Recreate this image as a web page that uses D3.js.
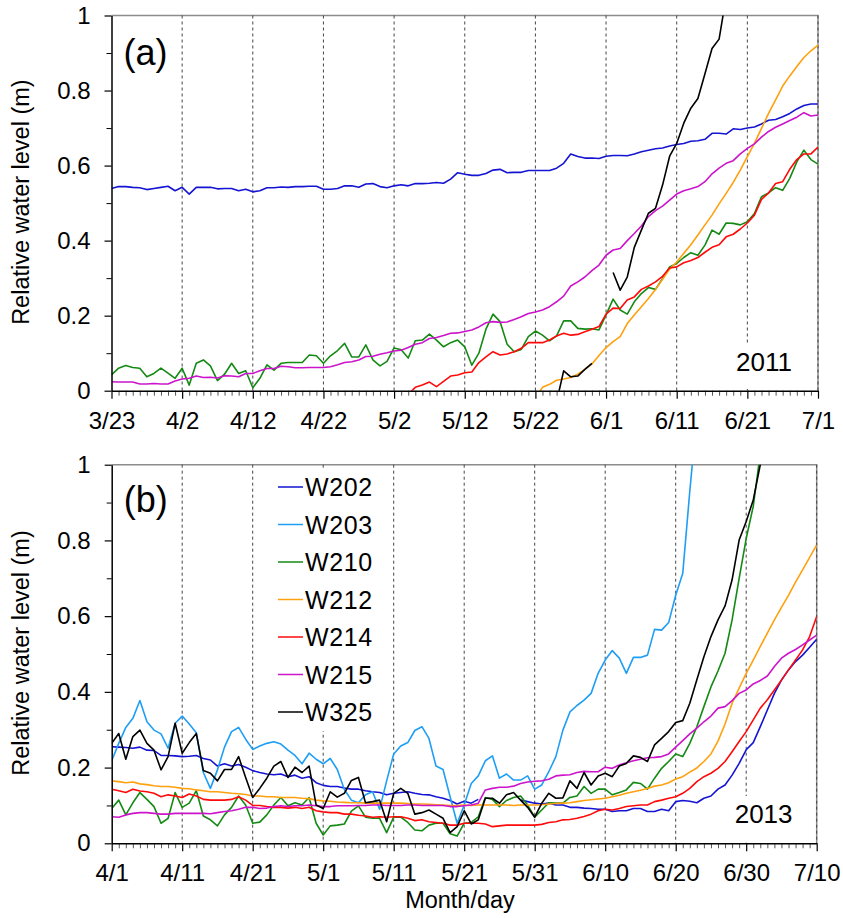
<!DOCTYPE html>
<html><head><meta charset="utf-8">
<script src="https://cdn.jsdelivr.net/npm/d3@7"></script>
<style>
body{margin:0;background:#fff}
svg{display:block;font-family:"Liberation Sans",Arial,sans-serif}
</style>
</head><body>
<svg id="c" width="843" height="918"></svg>
<script>
// ---------- data ----------
const seriesNames = ["W202","W203","W210","W212","W214","W215","W325"];
const seriesColors = ["#1414d2","#1e9ef5","#148a14","#ffa00f","#ff0a0a","#cc14cc","#000000"];
const startA = "2011-03-23";
const startB = "2013-04-01";
const ticksA = ["3/23","4/2","4/12","4/22","5/2","5/12","5/22","6/1","6/11","6/21","7/1"];
const ticksB = ["4/1","4/11","4/21","5/1","5/11","5/21","5/31","6/10","6/20","6/30","7/10"];
const yTicks = [0,0.2,0.4,0.6,0.8,1];
const yMinorTicks = [0.1,0.3,0.5,0.7,0.9];
const _ = null;

// Panel (a) 2011, daily values from 3/23
const a_W202 = [0.539,0.544,0.544,0.542,0.541,0.536,0.539,0.542,0.545,0.533,
0.542,0.524,0.542,0.542,0.542,0.538,0.539,0.539,0.533,0.537,
0.530,0.533,0.541,0.541,0.543,0.542,0.544,0.544,0.545,0.545,
0.537,0.537,0.539,0.546,0.546,0.542,0.551,0.552,0.544,0.541,
0.546,0.549,0.546,0.552,0.552,0.553,0.555,0.553,0.564,0.581,
0.577,0.574,0.574,0.579,0.588,0.590,0.581,0.582,0.582,0.587,
0.587,0.587,0.587,0.593,0.606,0.631,0.624,0.620,0.620,0.619,
0.625,0.627,0.627,0.626,0.631,0.637,0.641,0.645,0.647,0.652,
0.656,0.659,0.665,0.666,0.670,0.686,0.686,0.684,0.698,0.696,
0.700,0.703,0.711,0.721,0.723,0.730,0.739,0.751,0.760,0.764,0.764];
const a_W210 = [0.042,0.060,0.067,0.062,0.060,0.037,0.046,0.060,0.047,0.033,
0.060,0.015,0.073,0.082,0.066,0.027,0.044,0.073,0.046,0.053,
0.008,0.033,0.069,0.055,0.073,0.075,0.075,0.075,0.095,0.093,
0.073,0.093,0.107,0.126,0.090,0.090,0.122,0.082,0.066,0.078,
0.114,0.109,0.087,0.133,0.135,0.151,0.135,0.117,0.128,0.135,
0.117,0.068,0.100,0.164,0.204,0.184,0.124,0.104,0.110,0.144,
0.159,0.148,0.133,0.146,0.186,0.186,0.166,0.164,0.165,0.162,
0.202,0.244,0.215,0.204,0.237,0.259,0.275,0.270,0.299,0.330,
0.339,0.355,0.368,0.361,0.388,0.428,0.417,0.447,0.446,0.442,
0.450,0.472,0.517,0.527,0.541,0.534,0.566,0.610,0.641,0.616,0.604];
const a_W212 = [_,_,_,_,_,_,_,_,_,_, _,_,_,_,_,_,_,_,_,_, _,_,_,_,_,_,_,_,_,_,
_,_,_,_,_,_,_,_,_,_, _,_,_,_,_,_,_,_,_,_, _,_,_,_,_,_,_,_,_,_,
-0.02,0.009,0.017,0.028,0.031,0.035,0.044,0.057,0.071,0.094,
0.115,0.131,0.144,0.179,0.202,0.224,0.246,0.270,0.297,0.324,
0.343,0.366,0.389,0.415,0.442,0.468,0.498,0.526,0.555,0.588,
0.624,0.659,0.699,0.739,0.775,0.812,0.839,0.864,0.888,0.906,0.921];
const a_W214 = [_,_,_,_,_,_,_,_,_,_, _,_,_,_,_,_,_,_,_,_, _,_,_,_,_,_,_,_,_,_,
_,_,_,_,_,_,_,_,_,_, _,_,-0.01,0.009,0.015,0.023,0.011,0.025,0.039,0.042,
0.048,0.050,0.075,0.090,0.104,0.095,0.098,0.104,0.113,0.128,
0.128,0.128,0.135,0.146,0.153,0.148,0.150,0.157,0.164,0.171,
0.204,0.220,0.219,0.242,0.250,0.270,0.279,0.290,0.305,0.327,
0.330,0.341,0.347,0.355,0.369,0.382,0.389,0.410,0.417,0.431,
0.447,0.468,0.510,0.527,0.552,0.557,0.590,0.616,0.631,0.631,0.649];
const a_W215 = [0.024,0.023,0.023,0.023,0.018,0.018,0.019,0.018,0.018,0.026,
0.031,0.033,0.039,0.035,0.036,0.034,0.040,0.039,0.037,0.046,
0.046,0.053,0.059,0.059,0.065,0.064,0.061,0.061,0.062,0.062,
0.062,0.064,0.069,0.075,0.077,0.082,0.091,0.092,0.097,0.101,
0.106,0.108,0.115,0.124,0.128,0.139,0.142,0.147,0.153,0.154,
0.158,0.162,0.170,0.181,0.184,0.182,0.183,0.190,0.197,0.206,
0.210,0.215,0.224,0.237,0.252,0.279,0.290,0.303,0.320,0.335,
0.361,0.375,0.379,0.400,0.419,0.439,0.464,0.480,0.492,0.508,
0.524,0.533,0.538,0.544,0.557,0.578,0.593,0.606,0.613,0.631,
0.646,0.658,0.676,0.691,0.702,0.711,0.720,0.729,0.741,0.732,0.735];
const a_W325 = [_,_,_,_,_,_,_,_,_,_, _,_,_,_,_,_,_,_,_,_, _,_,_,_,_,_,_,_,_,_,
_,_,_,_,_,_,_,_,_,_, _,_,_,_,_,_,_,_,_,_, _,_,_,_,_,_,_,_,_,_,
_,_,_,-0.03,0.053,0.037,0.039,0.057,0.073,_,
_,0.315,0.268,0.303,0.382,0.428,0.473,0.486,0.548,0.625,
0.659,0.713,0.753,0.779,0.845,0.912,0.937,1.05,_,_,
_,_,_,_,_,_,_,_,_,_,_];

// Panel (b) 2013, daily values from 4/1
const b_W202 = [0.255,0.254,0.253,0.251,0.254,0.246,0.245,0.232,0.232,0.231,
0.229,0.230,0.232,0.224,0.220,0.204,0.210,0.204,0.208,0.201,
0.192,0.187,0.183,0.181,0.183,0.176,0.180,0.172,0.176,0.160,
0.153,0.150,0.150,0.146,0.143,0.143,0.139,0.136,0.134,0.128,
0.132,0.134,0.136,0.132,0.129,0.128,0.123,0.119,0.113,0.104,
0.111,0.106,0.116,_,_,_,_,_,0.114,0.110,
0.106,0.104,0.106,0.101,0.101,0.095,0.095,0.093,0.092,0.090,
0.090,0.084,0.086,0.086,0.092,0.092,0.084,0.084,0.090,0.086,
0.110,0.113,0.111,0.107,0.119,0.125,0.143,0.154,0.180,0.211,
0.247,0.266,0.308,0.352,0.396,0.431,0.458,0.480,0.497,0.518,0.539];
const b_W203 = [0.218,0.264,0.306,0.330,0.377,0.321,0.299,0.289,0.251,0.317,
0.336,0.315,0.292,0.187,0.145,0.194,0.254,0.295,0.306,0.275,
0.248,0.257,0.264,0.268,0.262,0.246,0.232,0.210,0.238,0.222,
0.210,0.224,0.195,0.142,0.114,0.107,0.128,0.136,0.090,0.165,
0.236,0.257,0.266,0.298,0.308,0.277,0.204,0.195,0.123,0.053,
0.101,0.158,0.178,0.218,0.231,0.172,0.183,0.167,0.167,0.178,
0.143,0.154,0.189,0.229,0.299,0.347,0.364,0.378,0.396,0.449,
0.484,0.509,0.489,0.449,0.491,0.491,0.497,0.565,0.563,0.583,
0.655,0.713,0.93,1.13,_,_,_,_,_,_,
_,_,_,_,_,_,_,_,_,_,_];
const b_W210 = [0.092,0.114,0.075,0.107,0.134,0.116,0.097,0.053,0.066,0.134,
0.095,0.106,0.139,0.072,0.062,0.046,0.075,0.095,0.125,0.101,
0.053,0.056,0.075,0.101,0.121,0.099,0.107,0.101,0.121,0.053,
0.022,0.046,0.048,0.051,0.085,0.099,0.069,0.066,0.066,0.028,
0.069,0.069,0.055,0.035,0.033,0.048,0.053,0.053,0.025,0.019,
0.053,0.055,0.070,0.121,0.116,0.097,0.113,0.121,0.125,0.101,
0.069,0.088,0.107,0.106,0.106,0.121,0.125,0.150,0.132,0.143,
0.143,0.128,0.134,0.141,0.161,0.158,0.143,0.172,0.198,0.216,
0.236,0.229,0.264,0.308,0.361,0.413,0.455,0.502,0.590,0.700,
0.805,0.890,1.03,_,_,_,_,_,_,_,_];
const b_W212 = [0.165,0.163,0.160,0.162,0.157,0.155,0.152,0.150,0.150,0.148,
0.145,0.144,0.141,0.139,0.136,0.136,0.134,0.132,0.131,0.129,
0.125,0.125,0.123,0.123,0.121,0.121,0.121,0.119,0.118,0.114,
0.112,0.111,0.109,0.108,0.107,0.107,0.106,0.106,0.106,0.106,
0.106,0.106,0.105,0.104,0.104,0.103,0.102,0.101,0.100,0.100,
0.101,0.100,0.101,0.101,0.101,0.101,0.101,0.100,0.101,0.101,
0.101,0.102,0.104,0.105,0.106,0.107,0.110,0.113,0.115,0.117,
0.119,0.123,0.127,0.132,0.136,0.140,0.145,0.151,0.154,0.160,
0.170,0.176,0.188,0.199,0.216,0.236,0.270,0.315,0.370,0.410,
0.449,0.484,0.520,0.555,0.590,0.623,0.655,0.690,0.722,0.755,0.788];
const b_W214 = [0.143,0.139,0.134,0.143,0.138,0.136,0.132,0.123,0.128,0.125,
0.121,0.130,0.125,0.116,0.114,0.114,0.114,0.116,0.123,0.114,
0.100,0.100,0.097,0.095,0.095,0.093,0.095,0.092,0.095,0.086,
0.083,0.081,0.081,0.077,0.077,0.074,0.072,0.069,0.070,0.069,
0.070,0.070,0.066,0.060,0.062,0.057,0.055,0.053,0.048,0.048,
0.053,0.053,0.053,0.051,0.044,0.046,0.048,0.048,0.048,0.048,
0.048,0.050,0.055,0.057,0.062,0.063,0.066,0.071,0.077,0.086,
0.090,0.088,0.092,0.097,0.099,0.101,0.101,0.110,0.114,0.119,
0.123,0.132,0.145,0.163,0.176,0.185,0.198,0.216,0.242,0.269,
0.295,0.326,0.357,0.379,0.405,0.431,0.458,0.484,0.511,0.546,0.599];
const b_W215 = [0.070,0.069,0.075,0.079,0.081,0.081,0.079,0.077,0.077,0.079,
0.079,0.079,0.079,0.079,0.078,0.081,0.084,0.086,0.090,0.095,
0.095,0.092,0.093,0.097,0.099,0.097,0.099,0.099,0.101,0.099,
0.097,0.097,0.099,0.099,0.099,0.100,0.100,0.101,0.101,0.100,
0.100,0.100,0.101,0.101,0.100,0.100,0.100,0.100,0.097,0.097,
0.099,0.101,0.106,0.141,0.145,0.148,0.148,0.151,0.158,0.162,
0.164,0.165,0.169,0.178,0.180,0.181,0.187,0.190,0.189,0.189,
0.201,0.198,0.207,0.213,0.218,0.222,0.226,0.227,0.229,0.236,
0.254,0.271,0.289,0.304,0.321,0.336,0.357,0.361,0.377,0.396,
0.405,0.421,0.430,0.442,0.467,0.489,0.502,0.512,0.524,0.537,0.550];
const b_W325 = [0.264,0.290,0.222,0.282,0.299,0.264,0.246,0.194,0.229,0.317,
0.238,0.266,0.290,0.192,0.185,0.165,0.195,0.195,0.229,0.174,
0.121,0.145,0.172,0.204,0.216,0.174,0.201,0.187,0.204,0.101,
0.092,0.136,0.122,0.132,0.166,0.174,0.107,0.110,0.114,0.057,
0.132,0.145,0.132,0.077,0.081,0.088,0.077,0.066,0.028,0.044,
0.086,0.051,0.062,0.119,0.119,0.106,0.128,0.134,0.114,0.095,
0.069,0.106,0.132,0.119,0.120,0.165,0.145,0.187,0.154,0.178,
0.185,0.176,0.204,0.211,0.231,0.227,0.216,0.260,0.277,0.295,
0.319,0.324,0.370,0.432,0.493,0.546,0.590,0.627,0.696,0.801,
0.850,0.907,1.0,1.1,_,_,_,_,_,_,_];

// ---------- drawing ----------
const svg = d3.select("#c");
const parseDay = d3.utcParse("%Y-%m-%d");
const parseTick = d3.utcParse("%Y %m/%d");
const FONT = '"Liberation Sans",Arial,sans-serif';

function drawPanel(cfg){
  const start = parseDay(cfg.start);
  const nDays = cfg.series[0].values.length - 1;
  const end = d3.utcDay.offset(start, nDays);
  const yr = start.getUTCFullYear();
  const x = d3.scaleUtc().domain([start, end]).range([cfg.left, cfg.right]);
  const y = d3.scaleLinear().domain([0, 1]).range([cfg.bottom, cfg.top]);
  const tickDates = cfg.ticks.map(t => parseTick(yr + " " + t));
  const allDays = d3.utcDay.range(start, d3.utcDay.offset(end, 1));
  const g = svg.append("g");

  // top/right frame (gray)
  g.append("path")
    .attr("d", `M${x(start)},${y(1)}H${x(end)}V${y(0)}`)
    .attr("fill", "none").attr("stroke", "#8c8c8c").attr("stroke-width", 1.5);

  // dashed grid lines at major ticks
  g.selectAll(".grid").data(tickDates.slice(1)).join("line")
    .attr("x1", d => x(d)).attr("x2", d => x(d))
    .attr("y1", y(1)).attr("y2", y(0))
    .attr("stroke", "#444").attr("stroke-width", 1)
    .attr("stroke-dasharray", "3,3");

  // white boxes for year label / legend
  cfg.boxes.forEach(b => g.append("rect").attr("x", b[0]).attr("y", b[1])
    .attr("width", b[2]).attr("height", b[3]).attr("fill", "#fff"));

  // series lines
  const clipId = "clip" + cfg.id;
  svg.append("clipPath").attr("id", clipId).append("rect")
    .attr("x", x(start)).attr("y", y(1)).attr("width", x(end) - x(start)).attr("height", y(0) - y(1));
  const line = d3.line()
    .defined(d => d.v !== null)
    .x(d => x(d.date)).y(d => y(d.v));
  const lg = g.append("g").attr("clip-path", `url(#${clipId})`);
  cfg.series.forEach(s => {
    const pts = s.values.map((v, i) => ({date: d3.utcDay.offset(start, i), v}));
    lg.append("path").datum(pts).attr("d", line)
      .attr("fill", "none").attr("stroke", s.color).attr("stroke-width", 1.6)
      .attr("stroke-linejoin", "round");
  });

  // x axis minor ticks (daily)
  const majorSet = new Set(tickDates.map(d => +d));
  g.append("g").attr("transform", `translate(0,${y(0)})`)
    .call(d3.axisBottom(x).tickValues(allDays.filter(d => !majorSet.has(+d))).tickSize(5).tickFormat(""))
    .call(a => a.select(".domain").remove())
    .call(a => a.selectAll("line").attr("stroke", "#555"));
  // x axis major ticks + labels
  g.append("g").attr("transform", `translate(0,${y(0)})`)
    .call(d3.axisBottom(x).tickValues(tickDates).tickSize(8).tickSizeOuter(0).tickPadding(13)
      .tickFormat((d, i) => cfg.ticks[i]))
    .call(a => a.select(".domain").attr("stroke-width", 1.5))
    .call(a => a.selectAll("line").attr("stroke-width", 1.2))
    .call(a => a.selectAll("text").attr("font-size", 24).attr("font-family", FONT).attr("fill", "#000"));

  // y axis
  g.append("g").attr("transform", `translate(${x(start)},0)`)
    .call(d3.axisLeft(y).tickValues(yMinorTicks).tickSize(5).tickFormat(""))
    .call(a => a.select(".domain").remove());
  g.append("g").attr("transform", `translate(${x(start)},0)`)
    .call(d3.axisLeft(y).tickValues(yTicks).tickSize(7).tickSizeOuter(0).tickPadding(14)
      .tickFormat(d3.format("~g")))
    .call(a => a.select(".domain").attr("stroke-width", 1.5))
    .call(a => a.selectAll("line").attr("stroke-width", 1.2))
    .call(a => a.selectAll("text").attr("font-size", 24).attr("font-family", FONT).attr("fill", "#000"));

  // y axis title
  g.append("text")
    .attr("transform", `translate(29,${(y(0) + y(1)) / 2 - 1}) rotate(-90)`)
    .attr("text-anchor", "middle").attr("font-size", 23.5).attr("font-family", FONT)
    .text("Relative water level (m)");

  // panel label and year
  g.append("text").attr("x", x(start) + 12).attr("y", y(1) + cfg.labelDy)
    .attr("font-size", 36).attr("font-family", FONT)
    .text(cfg.label);
  g.append("text").attr("x", x(end) - 82).attr("y", y(0) - 20)
    .attr("font-size", 26).attr("font-family", FONT)
    .text(cfg.year);

  // legend
  if (cfg.legend) {
    const lx = 278, ly = 487, dy = 37.5;
    cfg.series.forEach((s, i) => {
      g.append("line").attr("x1", lx).attr("x2", lx + 25)
        .attr("y1", ly + i * dy).attr("y2", ly + i * dy)
        .attr("stroke", s.color).attr("stroke-width", 1.5);
      g.append("text").attr("x", lx + 27).attr("y", ly + i * dy)
        .attr("dy", "0.36em").attr("font-size", 25).attr("font-family", FONT)
        .attr("letter-spacing", 0.6)
        .text(s.name);
    });
  }
  return {x, y};
}

const colorOf = n => seriesColors[seriesNames.indexOf(n)];

drawPanel({
  id: "a", start: startA, ticks: ticksA, label: "(a)", year: "2011", labelDy: 49,
  left: 111.5, right: 818, top: 15.5, bottom: 390.7, legend: false,
  boxes: [[733, 343, 68, 46]],
  series: [
    {name: "W202", values: a_W202, color: colorOf("W202")},
    {name: "W210", values: a_W210, color: colorOf("W210")},
    {name: "W212", values: a_W212, color: colorOf("W212")},
    {name: "W214", values: a_W214, color: colorOf("W214")},
    {name: "W215", values: a_W215, color: colorOf("W215")},
    {name: "W325", values: a_W325, color: colorOf("W325")}
  ]
});

drawPanel({
  id: "b", start: startB, ticks: ticksB, label: "(b)", year: "2013", labelDy: 47,
  left: 111.7, right: 816.7, top: 464.7, bottom: 843.3, legend: true,
  boxes: [[272, 468, 108, 263], [733, 796, 68, 46]],
  series: [
    {name: "W202", values: b_W202, color: colorOf("W202")},
    {name: "W203", values: b_W203, color: colorOf("W203")},
    {name: "W210", values: b_W210, color: colorOf("W210")},
    {name: "W212", values: b_W212, color: colorOf("W212")},
    {name: "W214", values: b_W214, color: colorOf("W214")},
    {name: "W215", values: b_W215, color: colorOf("W215")},
    {name: "W325", values: b_W325, color: colorOf("W325")}
  ]
});

svg.append("text").attr("x", 460).attr("y", 908).attr("text-anchor", "middle")
  .attr("font-size", 23.5).attr("font-family", FONT).text("Month/day");
</script>
</body></html>
